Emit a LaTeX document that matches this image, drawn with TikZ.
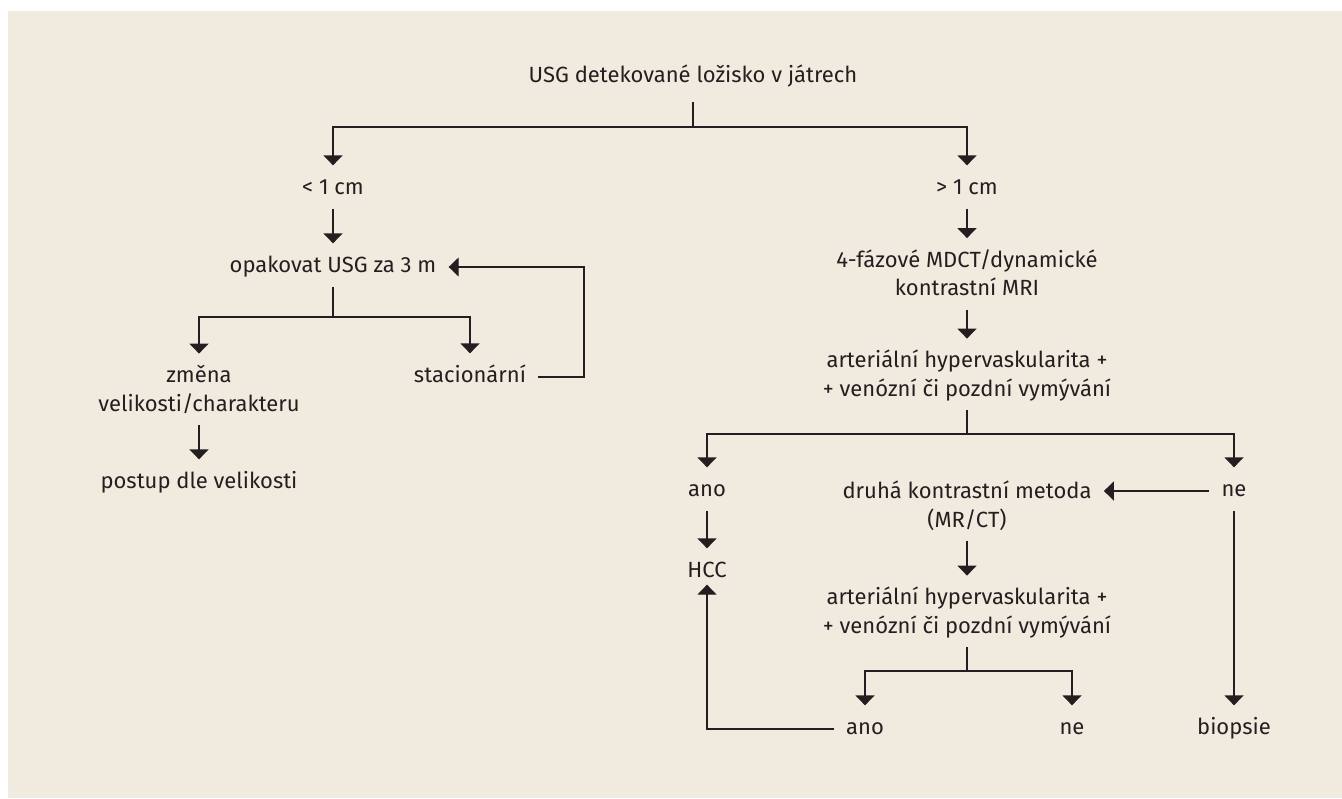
\documentclass[tikz,border=0pt]{standalone}
\usepackage{fontspec}
\setmainfont{Fira Sans}
\usetikzlibrary{arrows.meta}
\definecolor{ink}{HTML}{231F20}
\definecolor{paper}{HTML}{F1EBDF}

\begin{document}
\begin{tikzpicture}[
    x=0.5pt, y=-0.5pt,
    % Styles
    txt/.style={inner xsep=6pt, inner ysep=0pt, align=center, text=ink, font=\fontsize{11pt}{14.25pt}\selectfont},
    link/.style={draw=ink, line width=0.65pt},
    arrow/.style={link, -{Triangle[width=9.5pt, length=5pt]}, shorten >=4.5pt},
    flow/.style={arrow, shorten <=2.5pt},
]

% Background
\useasboundingbox (0,0) rectangle (1342,798);
\fill[paper] (8,11) rectangle (1342,798);

% Title
\node[txt] (title) at (693,77) {\strut USG detekované ložisko v játrech};
\coordinate (split) at (693,127);
\draw[link, shorten <=5pt] (title.south) -- (split);

% Size of the lesion
\node[txt] (small) at (333,189) {\strut < 1 cm};
\node[txt] (large) at (967,189) {\strut > 1 cm};
\draw[arrow] (split) -| (small.north);
\draw[arrow] (split) -| (large.north);

% Left branch
\node[txt] (repeat) at (333,267) {\strut opakovat USG za 3 m};
\draw[flow] (small.south) -- (repeat.north);
\coordinate (split2) at (333,317);
\draw[link, shorten <=2.5pt] (repeat.south) -- (split2);

\node[txt] (change) at (199,391.5) {\strut změna\\\strut velikosti/charakteru};
\node[txt] (steady) at (470,377) {\strut stacionární};
\draw[arrow] (split2) -| (change.north);
\draw[arrow] (split2) -| (steady.north);

\node[txt] (bysize) at (199,483) {\strut postup dle velikosti};
\draw[flow] (change.south) -- (bysize.north);

% back to repeat
\coordinate (loop) at (584,377);
\draw[arrow, shorten >=0pt] (steady.east) -- (loop) |- (repeat.east);

% Right branch
\node[txt] (mdct) at (967,276) {\strut 4-fázové MDCT/dynamické\\\strut kontrastní MRI};
\draw[flow] (large.south) -- (mdct.north);

\node[txt] (hyper) at (967,376.5) {\strut arteriální hypervaskularita +\\\strut + venózní či pozdní vymývání};
\draw[flow] (mdct.south) -- (hyper.north);
\coordinate (split3) at (967,434);
\draw[link, shorten <=2.5pt] (hyper.south) -- (split3);

\node[txt] (yes) at (707,491) {\strut ano};
\node[txt] (no) at (1234,491) {\strut ne};
\draw[arrow] (split3) -| (yes.north);
\draw[arrow] (split3) -| (no.north);

% Second method
\node[txt] (second) at (967,507.5) {\strut druhá kontrastní metoda\\\strut (MR/CT)};
\draw[arrow, shorten >=0pt] (no.west) -- (no.west -| second.east);

\node[txt] (hcc) at (707,572) {\strut HCC};
\draw[flow] (yes.south) -- (hcc.north);

\node[txt] (hyper2) at (967,613.5) {\strut arteriální hypervaskularita +\\\strut + venózní či pozdní vymývání};
\draw[flow] (second.south) -- (hyper2.north);
\coordinate (split4) at (967,671);
\draw[link, shorten <=2.5pt] (hyper2.south) -- (split4);

\node[txt] (yes2) at (865,729) {\strut ano};
\node[txt] (no2) at (1072,729) {\strut ne};
\draw[arrow] (split4) -| (yes2.north);
\draw[arrow] (split4) -| (no2.north);
\draw[arrow, shorten >=-1pt] (yes2.west) -| (hcc.south);

% Biopsy
\node[txt] (biopsy) at (1234,729) {\strut biopsie};
\draw[flow] (no.south) -- (biopsy.north);

\end{tikzpicture}
\end{document}
